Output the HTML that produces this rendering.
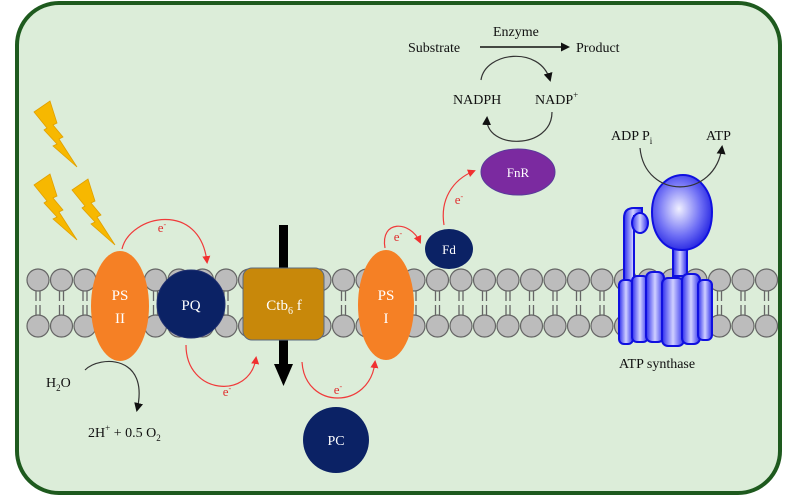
<!DOCTYPE html>
<html><head><meta charset="utf-8"><style>
html,body{margin:0;padding:0;background:#fff;}
svg{display:block;font-family:"Liberation Serif",serif;}
</style></head><body>
<svg width="800" height="500" viewBox="0 0 800 500" xmlns="http://www.w3.org/2000/svg">
<defs>
<marker id="ar" markerWidth="8" markerHeight="8" refX="6" refY="4" orient="auto" markerUnits="userSpaceOnUse"><path d="M0,0 L8,4 L0,8 z" fill="#f03030"/></marker>
<marker id="ak" markerWidth="9" markerHeight="9" refX="7" refY="4.5" orient="auto" markerUnits="userSpaceOnUse"><path d="M0,0 L9,4.5 L0,9 z" fill="#111"/></marker>
<linearGradient id="bl" x1="0" x2="1"><stop offset="0" stop-color="#2a2aee"/><stop offset="0.5" stop-color="#d0d0ff"/><stop offset="1" stop-color="#2a2aee"/></linearGradient>
<radialGradient id="hd" cx="0.45" cy="0.45" r="0.6"><stop offset="0" stop-color="#f0f0ff"/><stop offset="0.6" stop-color="#7070f5"/><stop offset="1" stop-color="#2020e0"/></radialGradient>
</defs>
<rect x="17" y="3" width="763" height="490" rx="42" fill="#dcedd9" stroke="#1e5a1e" stroke-width="4"/>
<g stroke="#666" stroke-width="1.2" fill="#bcbcbc">
<circle cx="38" cy="280" r="11"/><circle cx="61.5" cy="280" r="11"/><circle cx="85" cy="280" r="11"/><circle cx="108.5" cy="280" r="11"/><circle cx="132" cy="280" r="11"/><circle cx="155.5" cy="280" r="11"/><circle cx="179" cy="280" r="11"/><circle cx="202.5" cy="280" r="11"/><circle cx="226" cy="280" r="11"/><circle cx="249.5" cy="280" r="11"/><circle cx="273" cy="280" r="11"/><circle cx="296.5" cy="280" r="11"/><circle cx="320" cy="280" r="11"/><circle cx="343.5" cy="280" r="11"/><circle cx="367" cy="280" r="11"/><circle cx="390.5" cy="280" r="11"/><circle cx="414" cy="280" r="11"/><circle cx="437.5" cy="280" r="11"/><circle cx="461" cy="280" r="11"/><circle cx="484.5" cy="280" r="11"/><circle cx="508" cy="280" r="11"/><circle cx="531.5" cy="280" r="11"/><circle cx="555" cy="280" r="11"/><circle cx="578.5" cy="280" r="11"/><circle cx="602" cy="280" r="11"/><circle cx="625.5" cy="280" r="11"/><circle cx="649" cy="280" r="11"/><circle cx="672.5" cy="280" r="11"/><circle cx="696" cy="280" r="11"/><circle cx="719.5" cy="280" r="11"/><circle cx="743" cy="280" r="11"/><circle cx="766.5" cy="280" r="11"/>
<circle cx="38" cy="326" r="11"/><circle cx="61.5" cy="326" r="11"/><circle cx="85" cy="326" r="11"/><circle cx="108.5" cy="326" r="11"/><circle cx="132" cy="326" r="11"/><circle cx="155.5" cy="326" r="11"/><circle cx="179" cy="326" r="11"/><circle cx="202.5" cy="326" r="11"/><circle cx="226" cy="326" r="11"/><circle cx="249.5" cy="326" r="11"/><circle cx="273" cy="326" r="11"/><circle cx="296.5" cy="326" r="11"/><circle cx="320" cy="326" r="11"/><circle cx="343.5" cy="326" r="11"/><circle cx="367" cy="326" r="11"/><circle cx="390.5" cy="326" r="11"/><circle cx="414" cy="326" r="11"/><circle cx="437.5" cy="326" r="11"/><circle cx="461" cy="326" r="11"/><circle cx="484.5" cy="326" r="11"/><circle cx="508" cy="326" r="11"/><circle cx="531.5" cy="326" r="11"/><circle cx="555" cy="326" r="11"/><circle cx="578.5" cy="326" r="11"/><circle cx="602" cy="326" r="11"/><circle cx="625.5" cy="326" r="11"/><circle cx="649" cy="326" r="11"/><circle cx="672.5" cy="326" r="11"/><circle cx="696" cy="326" r="11"/><circle cx="719.5" cy="326" r="11"/><circle cx="743" cy="326" r="11"/><circle cx="766.5" cy="326" r="11"/>
</g>
<g stroke="#666" stroke-width="1.3">
<path d="M36,291V301M40,291V301M36,305V315M40,305V315M59.5,291V301M63.5,291V301M59.5,305V315M63.5,305V315M83,291V301M87,291V301M83,305V315M87,305V315M153.5,291V301M157.5,291V301M153.5,305V315M157.5,305V315M224,291V301M228,291V301M224,305V315M228,305V315M341.5,291V301M345.5,291V301M341.5,305V315M345.5,305V315M412,291V301M416,291V301M412,305V315M416,305V315M435.5,291V301M439.5,291V301M435.5,305V315M439.5,305V315M459,291V301M463,291V301M459,305V315M463,305V315M482.5,291V301M486.5,291V301M482.5,305V315M486.5,305V315M506,291V301M510,291V301M506,305V315M510,305V315M529.5,291V301M533.5,291V301M529.5,305V315M533.5,305V315M553,291V301M557,291V301M553,305V315M557,305V315M576.5,291V301M580.5,291V301M576.5,305V315M580.5,305V315M600,291V301M604,291V301M600,305V315M604,305V315M717.5,291V301M721.5,291V301M717.5,305V315M721.5,305V315M741,291V301M745,291V301M741,305V315M745,305V315M764.5,291V301M768.5,291V301M764.5,305V315M768.5,305V315"/>
</g>
<!-- lightning -->
<g fill="#f7b800" stroke="#e0a000" stroke-width="0.8">
<path id="b1" d="M34,112 L50,101 L57,123 L53,125 L63,137 L59,139 L77,167 L53,146 L57,144 L44,130 L47,128 Z"/>
<path d="M34,112 L50,101 L57,123 L53,125 L63,137 L59,139 L77,167 L53,146 L57,144 L44,130 L47,128 Z" transform="translate(0,73)"/>
<path d="M34,112 L50,101 L57,123 L53,125 L63,137 L59,139 L77,167 L53,146 L57,144 L44,130 L47,128 Z" transform="translate(38,78)"/>
</g>
<!-- black bar -->
<rect x="279" y="225" width="9" height="140" fill="#000"/>
<path d="M274,364 L293,364 L283.5,386 Z" fill="#000"/>
<!-- proteins -->
<ellipse cx="120" cy="306" rx="29" ry="55" fill="#f58025"/>
<text x="120" y="300" fill="#fff" font-size="15" text-anchor="middle">PS</text>
<text x="120" y="323" fill="#fff" font-size="15" text-anchor="middle">II</text>
<circle cx="191" cy="304" r="34" fill="#0b2265" stroke="#203070"/>
<text x="191" y="310" fill="#fff" font-size="15" text-anchor="middle">PQ</text>
<rect x="243" y="268" width="81" height="72" rx="9" fill="#c8880a" stroke="#5a6a80" stroke-width="1"/>
<text x="284" y="310" fill="#fff" font-size="15" text-anchor="middle">Ctb<tspan font-size="10" dy="4">6</tspan><tspan dy="-4"> f</tspan></text>
<ellipse cx="386" cy="305" rx="28" ry="55" fill="#f58025"/>
<text x="386" y="300" fill="#fff" font-size="15" text-anchor="middle">PS</text>
<text x="386" y="323" fill="#fff" font-size="15" text-anchor="middle">I</text>
<ellipse cx="449" cy="249" rx="24" ry="20" fill="#0b2265"/>
<text x="449" y="254" fill="#fff" font-size="13" text-anchor="middle">Fd</text>
<ellipse cx="518" cy="172" rx="37" ry="23" fill="#7b2aa0" stroke="#5a3a9a"/>
<text x="518" y="177" fill="#fff" font-size="13" text-anchor="middle">FnR</text>
<circle cx="336" cy="440" r="33" fill="#0b2265"/>
<text x="336" y="445" fill="#fff" font-size="14" text-anchor="middle">PC</text>
<!-- red e- arrows -->
<g fill="none" stroke="#f03a3a" stroke-width="1.2" marker-end="url(#ar)">
<path d="M122,249 C130,215 200,200 207,262"/>
<path d="M186,345 C186,395 250,400 256,358"/>
<path d="M302,362 C305,410 370,410 375,362"/>
<path d="M385,248 C380,220 410,220 420,242"/>
<path d="M444,225 C440,200 452,180 474,171"/>
</g>
<g fill="#e03030" font-size="13" text-anchor="middle">
<text x="162" y="232">e<tspan font-size="8" dy="-5">-</tspan></text>
<text x="227" y="396">e<tspan font-size="8" dy="-5">-</tspan></text>
<text x="338" y="394">e<tspan font-size="8" dy="-5">-</tspan></text>
<text x="398" y="241">e<tspan font-size="8" dy="-5">-</tspan></text>
<text x="459" y="204">e<tspan font-size="8" dy="-5">-</tspan></text>
</g>
<!-- black arrows -->
<g fill="none" stroke="#333" stroke-width="1.2" marker-end="url(#ak)">
<path d="M85,370 C100,355 150,355 137,410"/>
<path d="M481,80 C485,52 540,45 550,80"/>
<path d="M552,112 C552,150 485,150 487,118"/>
</g>
<!-- ATP synthase -->
<g stroke="#1010e0" stroke-width="2">
<path d="M624,340 V218 Q624,208 634,208 H642 V216 H634 V340 Z" fill="url(#bl)"/>
<ellipse cx="640" cy="223" rx="8" ry="10" fill="url(#bl)"/>
<rect x="673" y="246" width="14" height="30" fill="url(#bl)"/>
<path d="M652,212 C652,188 668,175 683,175 C698,175 712,190 712,212 C712,238 698,250 682,250 C664,250 652,235 652,212 Z" fill="url(#hd)"/>
<rect x="619" y="280" width="14" height="64" rx="5" fill="url(#bl)"/>
<rect x="632" y="276" width="16" height="66" rx="5" fill="url(#bl)"/>
<rect x="646" y="272" width="18" height="70" rx="6" fill="url(#bl)"/>
<rect x="662" y="278" width="22" height="68" rx="6" fill="url(#bl)"/>
<rect x="682" y="274" width="18" height="70" rx="6" fill="url(#bl)"/>
<rect x="698" y="280" width="14" height="60" rx="5" fill="url(#bl)"/>
</g>
<path d="M640,148 C645,200 715,200 722,147" fill="none" stroke="#333" stroke-width="1.2" marker-end="url(#ak)"/>
<path d="M480,47 L568,47" stroke="#111" stroke-width="1.5" fill="none" marker-end="url(#ak)"/>
<g fill="#111" font-size="14">
<text x="408" y="52">Substrate</text>
<text x="493" y="36">Enzyme</text>
<text x="576" y="52">Product</text>
<text x="453" y="104">NADPH</text>
<text x="535" y="104">NADP<tspan font-size="9" dy="-6">+</tspan></text>
<text x="611" y="140">ADP P<tspan font-size="9" dy="4">i</tspan></text>
<text x="706" y="140">ATP</text>
<text x="46" y="387">H<tspan font-size="9" dy="4">2</tspan><tspan dy="-4">O</tspan></text>
<text x="88" y="437">2H<tspan font-size="9" dy="-6">+</tspan><tspan dy="6"> + 0.5 O</tspan><tspan font-size="9" dy="4">2</tspan></text>
<text x="619" y="368">ATP  synthase</text>
</g>
</svg>
</body></html>
